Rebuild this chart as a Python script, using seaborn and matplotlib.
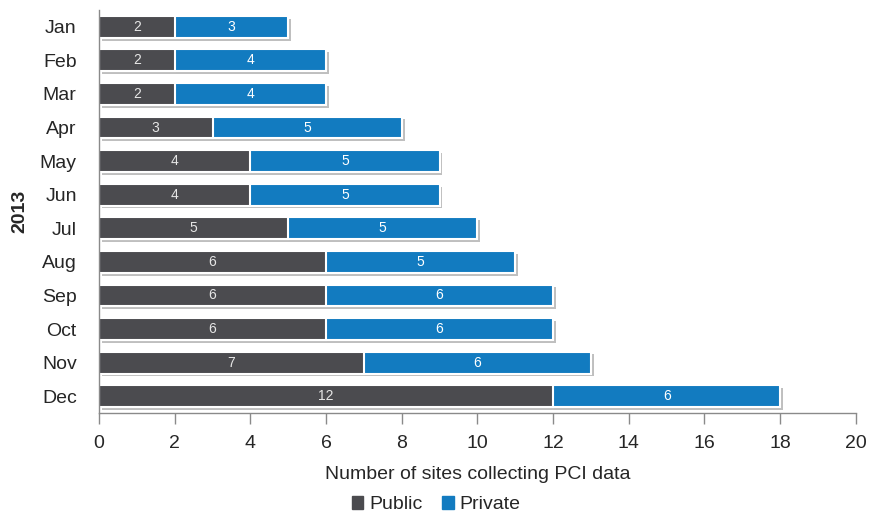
import matplotlib
matplotlib.use("Agg")
import matplotlib.pyplot as plt
import matplotlib.patheffects as pe
from matplotlib.patches import Patch
import seaborn as sns
import pandas as pd

# data
months = ["Jan", "Feb", "Mar", "Apr", "May", "Jun", "Jul", "Aug", "Sep", "Oct", "Nov", "Dec"]
public = [2, 2, 2, 3, 4, 4, 5, 6, 6, 6, 7, 12]
private = [3, 4, 4, 5, 5, 5, 5, 5, 6, 6, 6, 6]

gray = "#4b4b4f"
blue = "#127bc0"
axis_col = "#8a8a8a"

sns.set_style("white")
plt.rcParams["font.family"] = ["Liberation Sans Narrow", "Liberation Sans", "DejaVu Sans"]

df = pd.DataFrame({"month": months, "public": public, "private": private})
df["total"] = df["public"] + df["private"]

fig = plt.figure(figsize=(8.72, 5.14), dpi=100)
ax = fig.add_axes([0.1135, 0.1965, 0.868, 0.784])

# stacked bars: total in blue, public drawn over it in gray
sns.barplot(data=df, x="total", y="month", color=blue, saturation=1, width=0.65,
            edgecolor="white", linewidth=1.5, ax=ax)
for p in ax.patches:
    p.set_path_effects([pe.SimplePatchShadow(offset=(2, -2), shadow_rgbFace="#8c8c8c", alpha=0.55),
                        pe.Normal()])
sns.barplot(data=df, x="public", y="month", color=gray, saturation=1, width=0.65,
            edgecolor="white", linewidth=1.5, ax=ax)

for i, (pu, pr) in enumerate(zip(public, private)):
    ax.text(pu / 2, i, str(pu), ha="center", va="center", color="#e6e6e6", fontsize=10)
    ax.text(pu + pr / 2, i, str(pr), ha="center", va="center", color="white", fontsize=10)

ax.set_xlim(0, 20)
ax.set_xticks(range(0, 21, 2))
ax.tick_params(axis="x", bottom=True, direction="out", length=8, width=1, color=axis_col,
               labelsize=14, pad=8)
ax.tick_params(axis="y", left=False, length=0, labelsize=14, pad=16)
for s in ["top", "right"]:
    ax.spines[s].set_visible(False)
for s in ["left", "bottom"]:
    ax.spines[s].set_color(axis_col)
    ax.spines[s].set_linewidth(1)

ax.set_xlabel("Number of sites collecting PCI data", fontsize=14, labelpad=10)
ax.set_ylabel("2013", fontsize=14, fontweight="bold", labelpad=8)

handles = [Patch(color=gray, label="Public"), Patch(color=blue, label="Private")]
fig.legend(handles=handles, loc="lower center", bbox_to_anchor=(0.5, -0.033), ncol=2,
           frameon=False, fontsize=14, handlelength=0.6, handleheight=0.6,
           handletextpad=0.3, columnspacing=1.0)

fig.savefig("out.png", dpi=100)
